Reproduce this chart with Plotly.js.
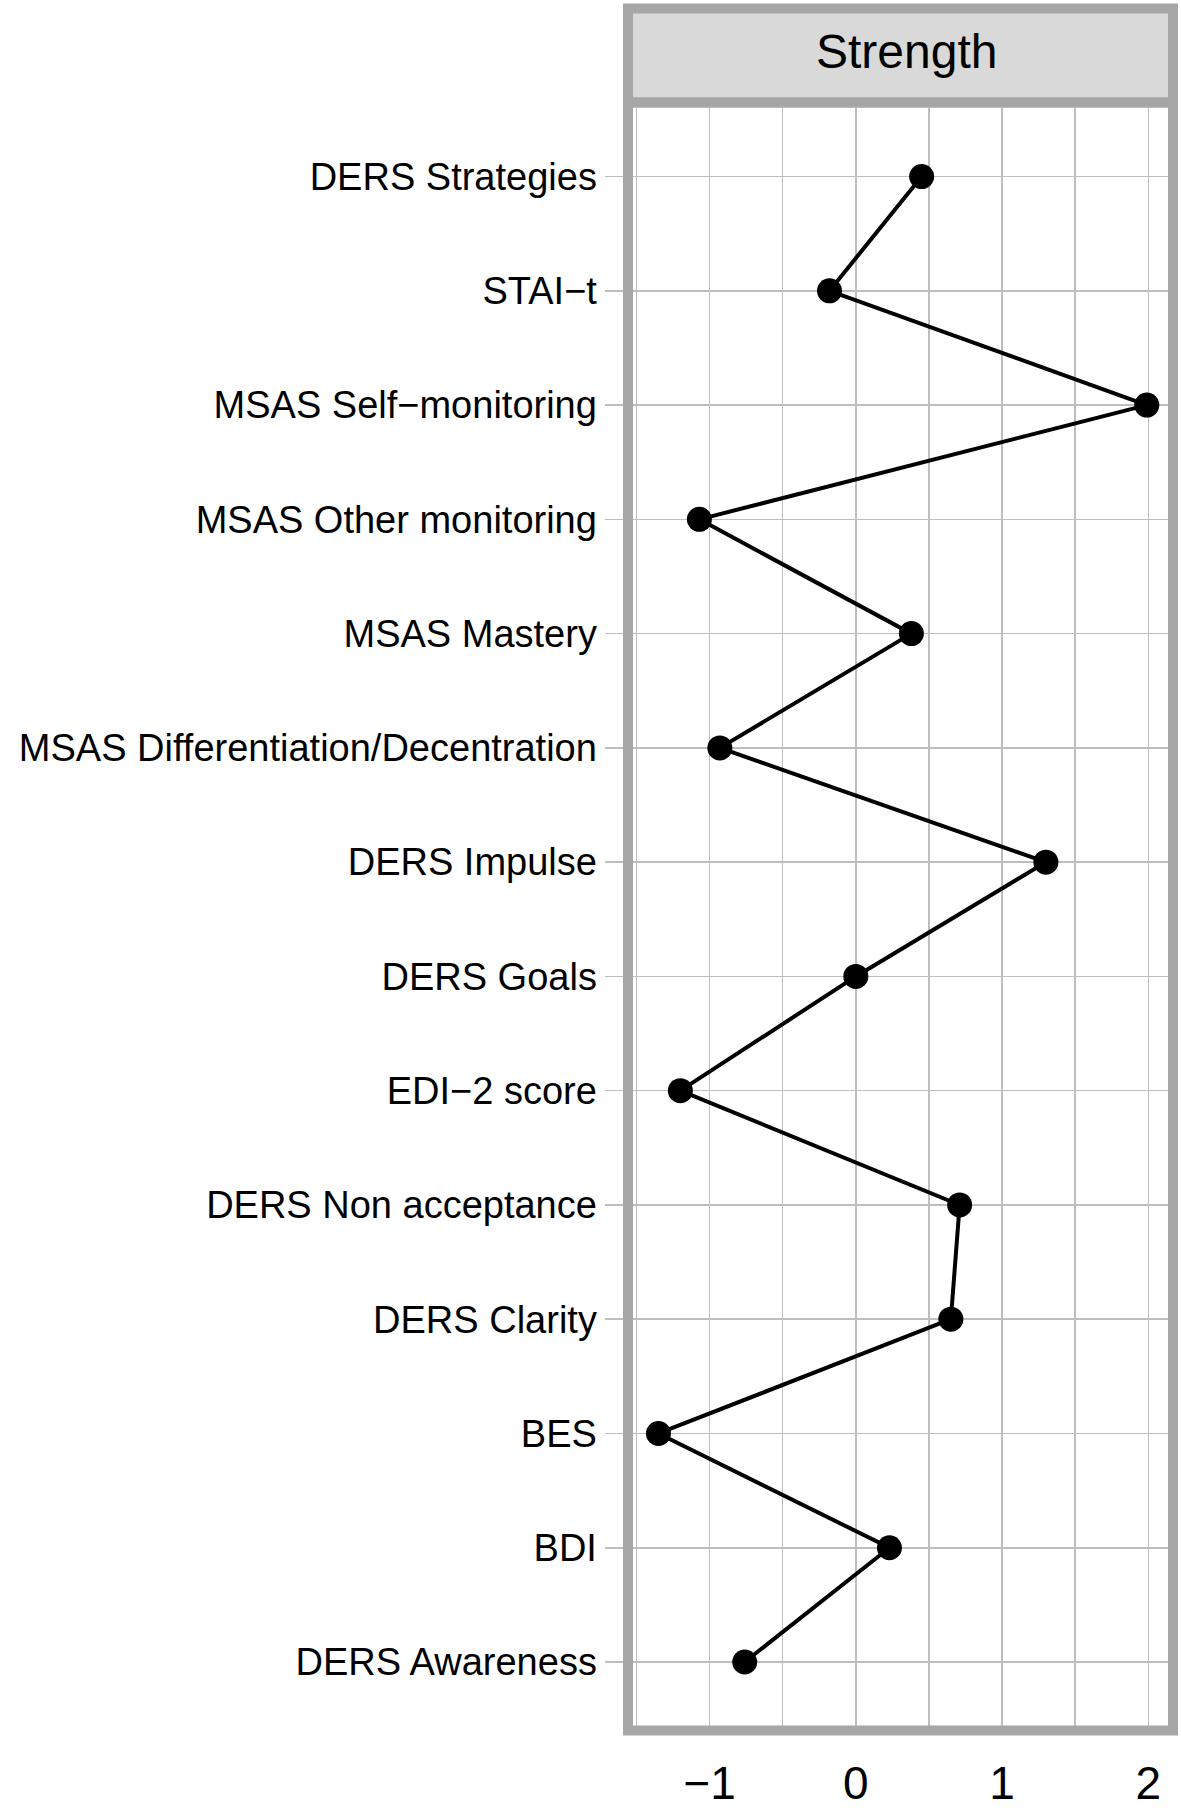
<!DOCTYPE html>
<html>
<head>
<meta charset="utf-8">
<script src="https://cdn.plot.ly/plotly-3.0.1.min.js"></script>
<style>
  body { margin: 0; background: #fff; }
  #plot { width: 1181px; height: 1811px; }
</style>
</head>
<body>
<div id="plot"></div>
<script>
// nodes, top to bottom
var nodes = [
    "DERS Strategies",
    "STAI\u2212t",
    "MSAS Self\u2212monitoring",
    "MSAS Other monitoring",
    "MSAS Mastery",
    "MSAS Differentiation/Decentration",
    "DERS Impulse",
    "DERS Goals",
    "EDI\u22122 score",
    "DERS Non acceptance",
    "DERS Clarity",
    "BES",
    "BDI",
    "DERS Awareness"
]

// centrality (strength)
var strength = [0.45, -0.18, 1.99, -1.07, 0.38, -0.93, 1.30, 0.00, -1.20, 0.71, 0.65, -1.35, 0.23, -0.76]

var xTicks = [-1, 0, 1, 2]
var xTickText = ["\u22121", "0", "1", "2"]
var panelTitle = "Strength"

// plot area in pixels
var W = 1181, H = 1811
var L = 632.5, R = 1168.5, T = 108, B = 1726
function px(x) { return (x - L) / (R - L) }
function py(y) { return (B - y) / (B - T) }

var frameGrey = '#a6a6a6'
var gridGrey = '#bebebe'

var trace = {
    x: strength,
    y: nodes,
    type: 'scatter',
    mode: 'lines+markers',
    line: {color: '#000', width: 4},
    marker: {color: '#000', size: 25, symbol: 'circle'},
    hoverinfo: 'x+y'
}

var layout = {
    width: W,
    height: H,
    margin: {l: L, r: W - R, t: T, b: H - B},
    paper_bgcolor: '#fff',
    plot_bgcolor: '#fff',
    showlegend: false,
    font: {family: 'Liberation Sans, Arial, sans-serif', color: '#000'},
    xaxis: {
        range: [-1.524, 2.135],
        tickvals: xTicks,
        ticktext: xTickText,
        tickfont: {size: 46, color: '#000'},
        ticks: '',
        ticklabelstandoff: 26,
        showgrid: true,
        gridcolor: gridGrey,
        gridwidth: 1.5,
        minor: {dtick: 0.5, tick0: 0, showgrid: true, gridcolor: gridGrey, gridwidth: 1.5, ticks: ''},
        zeroline: false,
        showline: false,
        fixedrange: true
    },
    yaxis: {
        type: 'category',
        categoryorder: 'array',
        categoryarray: nodes,
        range: [13.56, -0.6],
        tickfont: {size: 38, color: '#000'},
        ticks: 'outside',
        ticklen: 27.5,
        tickwidth: 1.5,
        tickcolor: gridGrey,
        showgrid: true,
        gridcolor: gridGrey,
        gridwidth: 1.5,
        zeroline: false,
        showline: false,
        fixedrange: true
    },
    shapes: [
        // strip
        {
            type: 'rect', xref: 'paper', yref: 'paper', layer: 'above',
            x0: px(627.5), x1: px(1173.5), y0: py(102.5), y1: py(8.5),
            fillcolor: '#d9d9d9', line: {color: frameGrey, width: 10}
        },
        // panel border
        {
            type: 'rect', xref: 'paper', yref: 'paper', layer: 'above',
            x0: px(627.5), x1: px(1173.5), y0: py(1730.5), y1: py(102.5),
            line: {color: frameGrey, width: 10}
        }
    ],
    annotations: [{
        text: panelTitle,
        xref: 'paper', yref: 'paper',
        x: px(907), y: py(52),
        xanchor: 'center', yanchor: 'middle',
        showarrow: false,
        font: {size: 48, color: '#000'}
    }]
}

Plotly.newPlot('plot', [trace], layout, {displayModeBar: false, staticPlot: true})
</script>
</body>
</html>
